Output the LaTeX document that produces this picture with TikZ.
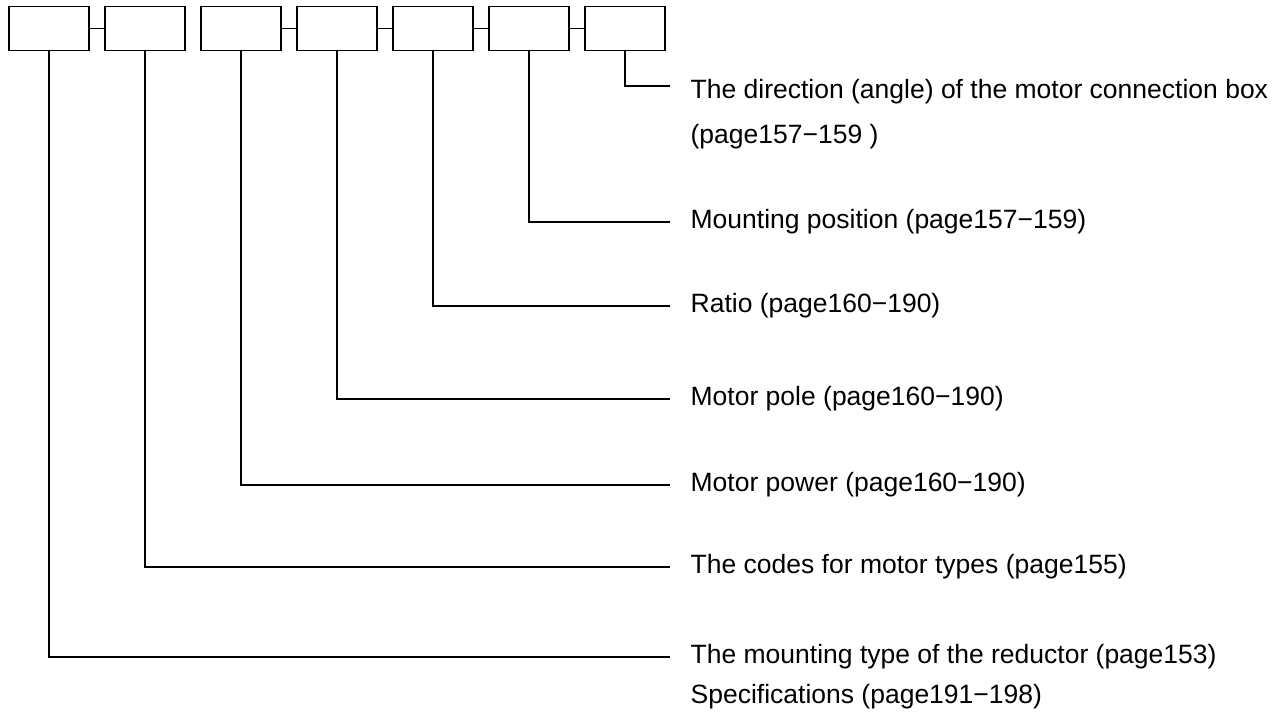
\documentclass[tikz,border=0pt]{standalone}
\usepackage{fontspec}
\setmainfont{Liberation Sans}
\usetikzlibrary{positioning}
\tikzset{every picture/.style={line width=1.3pt}}
\tikzset{
  codebox/.style={draw, minimum width=80pt, minimum height=44pt, inner sep=0pt},
  desc/.style={anchor=west, inner xsep=20pt, inner ysep=0pt, font=\fontsize{26.5}{30}\selectfont},
}

\begin{document}
\begin{tikzpicture}[x=1pt,y=-1pt]
    \useasboundingbox (0,0) rectangle (1277,717);

    % 型号代码框
    \foreach \i in {1,...,7}
        \node[codebox] (b\i) at ({49+96*(\i-1)},28.5) {};

    % 框之间的短线
    \draw (b1) -- (b2);
    \foreach \i/\j in {3/4,4/5,5/6,6/7}
        \draw (b\i) -- (b\j);

    % 说明文字
    \node[desc] (t7) at (670,92) {The direction (angle) of the motor connection box};
    \node[desc] (t7b) at (670,137) {(page157−159 )};
    \node[desc] (t6) at (670,222) {Mounting position (page157−159)};
    \node[desc] (t5) at (670,306) {Ratio (page160−190)};
    \node[desc] (t4) at (670,399) {Motor pole (page160−190)};
    \node[desc] (t3) at (670,485) {Motor power (page160−190)};
    \node[desc] (t2) at (670,567) {The codes for motor types (page155)};
    \node[desc] (t1) at (670,657) {The mounting type of the reductor (page153)};
    \node[desc] (t1b) at (670,697) {Specifications (page191−198)};

    % 引出线
    \draw (b7.south) |- ([yshift=6pt]t7.west);
    \foreach \i in {1,...,6}
        \draw (b\i.south) |- (t\i.west);
\end{tikzpicture}
\end{document}
